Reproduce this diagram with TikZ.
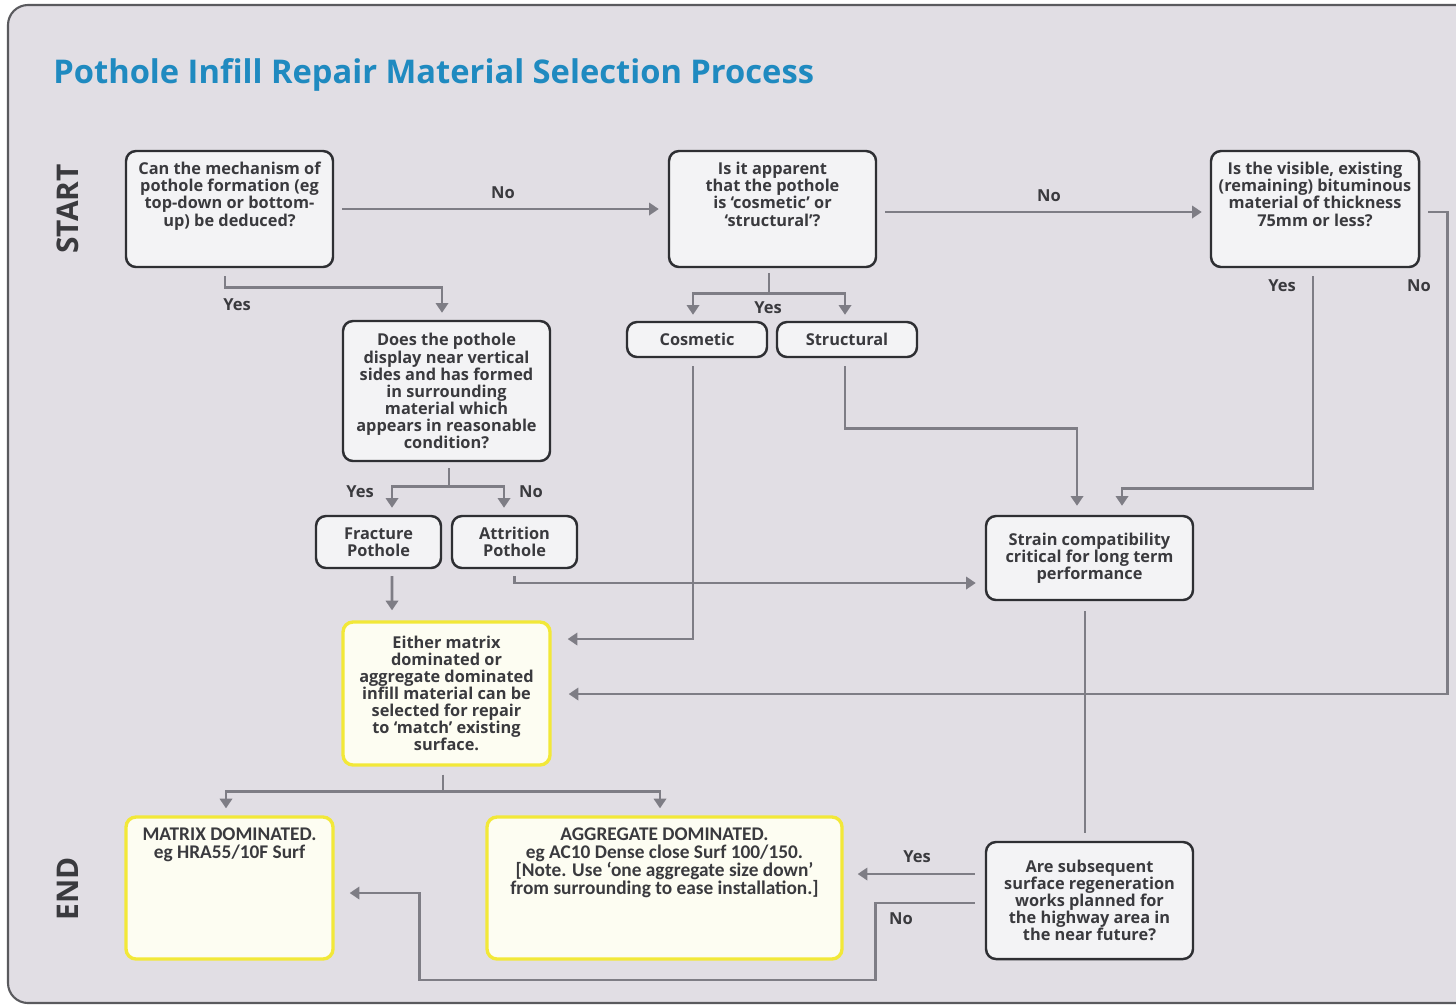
\documentclass[tikz,border=0pt]{standalone}
\usepackage{fontspec}
\setmainfont{Open Sans}
\newfontfamily\condfont{Carlito}
\usetikzlibrary{arrows.meta,calc}

\definecolor{panel}{HTML}{E1DEE4}
\definecolor{panelline}{HTML}{5A5A5E}
\definecolor{boxfill}{HTML}{F3F3F5}
\definecolor{boxline}{HTML}{2E2F33}
\definecolor{wire}{HTML}{7E7D85}
\definecolor{ink}{HTML}{3A3A3E}
\definecolor{titleblue}{HTML}{1F8AC0}
\definecolor{endline}{HTML}{F2E838}
\definecolor{endfill}{HTML}{FDFDF2}

% top-aligned text block of a fixed size
\newcommand{\topbox}[3]{\parbox[c][#2][t]{#1}{\centering\rule{0pt}{13.6pt}#3}}

\tikzset{
  qfont/.style={font=\bfseries\fontsize{9.3}{9.7}\selectfont},
  qbox/.style={draw=boxline, line width=1.4pt, fill=boxfill, rounded corners=0.2cm,
    inner sep=0pt, align=center, text=ink, qfont},
  wh/.style 2 args={minimum width=#1*0.02cm, minimum height=#2*0.02cm},
  endbox/.style={draw=endline, line width=1.9pt, fill=endfill, rounded corners=0.2cm,
    inner sep=0pt, align=center, text=ink},
  condtext/.style={font=\condfont\bfseries\fontsize{11}{10.1}\selectfont},
  conn/.style={draw=wire, line width=1.5pt},
  arr/.style={conn, -{Triangle[length=5.5pt,width=7pt]}},
  lbl/.style={text=ink, font=\bfseries\fontsize{9.4}{10}\selectfont, inner sep=0pt},
  side/.style={text=ink, font=\bfseries\fontsize{17}{20}\selectfont, rotate=90, inner sep=0pt}
}

\begin{document}
\begin{tikzpicture}[x=0.02cm, y=-0.02cm]

% page and panel
\fill[white] (0,0) rectangle (1456,1005);
\useasboundingbox (0,0) rectangle (1456,1005);
\begin{scope}
  \clip (0,0) rectangle (1456,1005);
  \draw[panelline, line width=1.2pt, fill=panel, rounded corners=0.4cm] (8,5) rectangle (1490,1003);
\end{scope}

% heading and side labels
\node[anchor=base west, text=titleblue, font=\bfseries\fontsize{18.6}{22}\selectfont, inner sep=0pt]
  (title) at (53,83) {Pothole Infill Repair Material Selection Process};
\node[side] (start) at (68,209) {START};
\node[side] (end) at (68,889) {END};

% question and result boxes
\node[qbox, wh={207}{116}] (a) at (229.5,209)
  {\topbox{4.14cm}{2.32cm}{Can the mechanism of\\pothole formation (eg\\top-down or bottom-\\up) be deduced?}};
\node[qbox, wh={207}{116}] (b) at (772.5,209)
  {\topbox{4.14cm}{2.32cm}{Is it apparent\\that the pothole\\is ‘cosmetic’ or\\‘structural’?}};
\node[qbox, wh={208}{116}] (c) at (1315,209)
  {\topbox{4.16cm}{2.32cm}{Is the visible, existing\\(remaining) bituminous\\material of thickness\\75mm or less?}};
\node[qbox, wh={207}{140}] (d) at (446.5,391)
  {Does the pothole\\display near vertical\\sides and has formed\\in surrounding\\material which\\appears in reasonable\\condition?};
\node[qbox, wh={140}{35}] (cos) at (697,339.5) {Cosmetic};
\node[qbox, wh={140}{35}] (str) at (847,339.5) {Structural};
\node[qbox, wh={125}{52}] (fra) at (378.5,542) {Fracture\\Pothole};
\node[qbox, wh={125}{52}] (att) at (514.5,542) {Attrition\\Pothole};
\node[qbox, wh={207}{84}] (strain) at (1089.5,558)
  {Strain compatibility\\critical for long term\\performance};
\node[endbox, qfont, wh={207}{143}] (eith) at (446.5,693.5)
  {Either matrix\\dominated or\\aggregate dominated\\infill material can be\\selected for repair\\to ‘match’ existing\\surface.};
\node[endbox, condtext, wh={207}{142}] (mat) at (229.5,888)
  {\topbox{4.14cm}{2.84cm}{MATRIX DOMINATED.\\eg HRA55/10F Surf}};
\node[endbox, condtext, wh={355}{142}] (agg) at (664.5,888)
  {\topbox{7.1cm}{2.84cm}{AGGREGATE DOMINATED.\\eg AC10 Dense close Surf 100/150.\\{[}Note. Use ‘one aggregate size down’\\from surrounding to ease installation.]}};
\node[qbox, wh={207}{117}] (are) at (1089.5,900.5)
  {Are subsequent\\surface regeneration\\works planned for\\the highway area in\\the near future?};

% connectors
\draw[arr] ($(a.east)+(8,0)$) -- ($(b.west)+(-9,0)$);
\draw[arr] ($(b.east)+(8,3)$) -- ($(c.west)+(-8,3)$);

\draw[arr] ($(a.south)+(-4.5,8)$) |- ($(d.north)+(-4.5,-32)$) -- ($(d.north)+(-4.5,-7)$);

\draw[conn] ($(b.south)+(-3.5,5)$) -- ++(0,20) coordinate (bs);
\draw[arr] (bs) -| ($(cos.north)+(-4,-6)$);
\draw[arr] (bs) -| ($(str.north)+(-2,-6)$);

\draw[conn] ($(d.south)+(2.5,6)$) -- ++(0,18) coordinate (ds);
\draw[arr] (ds) -| ($(fra.north)+(13.5,-7)$);
\draw[arr] (ds) -| ($(att.north)+(-10.5,-7)$);

\draw[arr] ($(fra.south)+(13.5,7)$) -- ($(eith.north)+(-54.5,-10)$);
\draw[arr] ($(att.south)+(0,7)$) |- ($(strain.west)+(-9,25)$);
\draw[arr] ($(cos.south)+(-4,8)$) |- ($(eith.east)+(16,-54.5)$);
\draw[arr] ($(str.south)+(-2,8)$) -- ++(0,62) -| ($(strain.north)+(-12.5,-9)$);
\draw[arr] ($(c.south)+(-2,8)$) -- ++(0,212) -| ($(strain.north)+(32.5,-9)$);
\draw[arr] ($(c.east)+(8,3)$) -- ++(19,0) |- ($(eith.east)+(17,0.5)$);
\draw[conn] ($(strain.south)+(-4.5,10)$) -- ($(are.north)+(-4.5,-8)$);

\draw[conn] ($(eith.south)+(-3.5,8)$) -- ++(0,17) coordinate (es);
\draw[arr] (es) -| ($(mat.north)+(-3.5,-7)$);
\draw[arr] (es) -| ($(agg.north)+(-4.5,-7)$);

\draw[arr] ($(are.west)+(-10,-26.5)$) -- ($(agg.east)+(14,-14)$);
\draw[arr] ($(are.west)+(-10,2.5)$) -- ++(-99,0) -- ++(0,77) -- ++(-456,0) |- ($(mat.east)+(15,5)$);

% branch labels
\node[lbl] (l1) at (503,193) {No};
\node[lbl] (l2) at (1049,196) {No};
\node[lbl] (l3) at (237,305) {Yes};
\node[lbl] (l4) at (768,308) {Yes};
\node[lbl] (l5) at (360,492) {Yes};
\node[lbl] (l6) at (531,492) {No};
\node[lbl] (l7) at (1282,286) {Yes};
\node[lbl] (l8) at (1419,286) {No};
\node[lbl] (l9) at (917,857) {Yes};
\node[lbl] (l10) at (901,919) {No};
\end{tikzpicture}
\end{document}
